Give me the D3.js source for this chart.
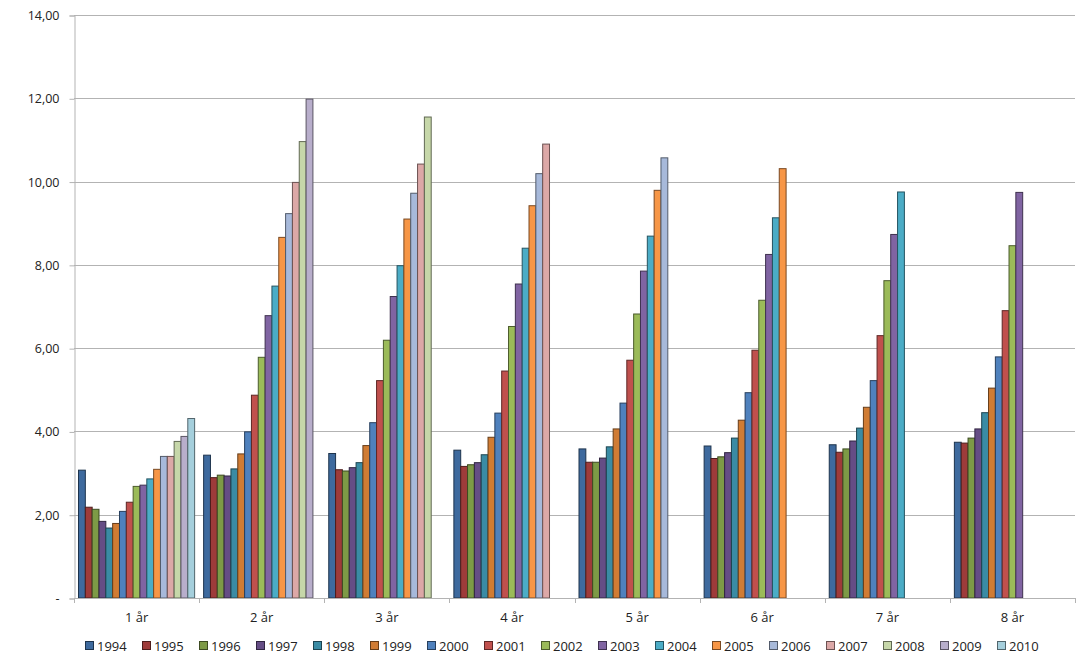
<!DOCTYPE html>
<html><head><meta charset="utf-8">
<script src="https://cdn.jsdelivr.net/npm/d3@7"></script>
<style>body{margin:0;background:#fff}svg{display:block}text{font-family:"Open Sans","Liberation Sans",sans-serif;fill:#222}</style>
</head><body><svg id="c" width="1092" height="667"></svg>
<script>
const categories = ["1 år","2 år","3 år","4 år","5 år","6 år","7 år","8 år"];
const years = ["1994","1995","1996","1997","1998","1999","2000","2001","2002","2003","2004","2005","2006","2007","2008","2009","2010"];
const yTicks = [0,2,4,6,8,10,12,14];
const colors = ["#3E6A9E","#9E3B3A","#7D9A46","#654D85","#3A8BA4","#D07C34","#4F81BD","#C0504D","#9BBB59","#8064A2","#4BACC6","#F79646","#A7B9DA","#DCA8A7","#C6D7A9","#B8AECB","#A5CFDC"];
// values per category, in year order (missing years omitted at end)
const v1 = [3.07,2.18,2.13,1.84,1.68,1.79,2.08,2.30,2.68,2.71,2.86,3.09,3.40,3.40,3.76,3.88,4.31];
const v2 = [3.43,2.89,2.95,2.93,3.10,3.46,3.99,4.87,5.78,6.78,7.49,8.66,9.23,9.98,10.96,11.98];
const v3 = [3.47,3.08,3.05,3.13,3.25,3.66,4.21,5.22,6.19,7.24,7.98,9.10,9.72,10.42,11.55];
const v4 = [3.55,3.16,3.20,3.25,3.44,3.86,4.44,5.45,6.52,7.54,8.40,9.42,10.19,10.90];
const v5 = [3.58,3.26,3.26,3.36,3.63,4.06,4.68,5.71,6.82,7.85,8.69,9.79,10.57];
const v6 = [3.65,3.35,3.39,3.49,3.84,4.27,4.93,5.95,7.15,8.25,9.13,10.31];
const v7 = [3.68,3.50,3.58,3.77,4.08,4.58,5.22,6.30,7.62,8.73,9.75];
const v8 = [3.74,3.72,3.84,4.06,4.45,5.04,5.79,6.90,8.46,9.74];
const values = [v1,v2,v3,v4,v5,v6,v7,v8];

const svg = d3.select("#c");
const L=74, R=1075, T=15, B=598;
const x0 = d3.scaleBand().domain(categories).range([L,R]);
const bw = x0.bandwidth();
const x1 = d3.scaleBand().domain(years).range([4.5, bw-4.5]);
const y = d3.scaleLinear().domain([0,14]).range([B,T]);
const color = d3.scaleOrdinal().domain(years).range(colors);

// gridlines
svg.append("g").selectAll("line").data(yTicks.filter(t=>t>0)).join("line")
  .attr("x1",L).attr("x2",R).attr("y1",d=>Math.round(y(d))+0.5).attr("y2",d=>Math.round(y(d))+0.5)
  .attr("stroke","#b3b3b3").attr("stroke-width",1);

// y axis
const fmt = d => d===0 ? "-" : d3.format(".2f")(d).replace(".",",");
const ya = svg.append("g").attr("transform",`translate(${L+0.5},0.5)`)
  .call(d3.axisLeft(y).tickValues(yTicks).tickFormat(fmt).tickSize(5).tickPadding(10));
ya.select(".domain").attr("stroke","#b3b3b3");
ya.selectAll(".tick line").attr("stroke","#b3b3b3");
ya.selectAll("text").attr("font-size",12.5).style("fill","#222");

// bars
const groups = svg.append("g").selectAll("g").data(categories).join("g")
  .attr("transform",d=>`translate(${x0(d)},0)`);
groups.selectAll("rect").data((d,i)=>values[i].map((v,j)=>({year:years[j],v})))
  .join("rect")
  .attr("x",d=>x1(d.year)).attr("width",x1.bandwidth())
  .attr("y",d=>y(d.v)).attr("height",d=>B-y(d.v))
  .attr("fill",d=>color(d.year))
  .attr("stroke",d=>d3.color(color(d.year)).darker(2))
  .attr("stroke-width",1);

// x axis
svg.append("line").attr("x1",L).attr("x2",R).attr("y1",B+0.5).attr("y2",B+0.5).attr("stroke","#b3b3b3");
svg.append("g").selectAll("line").data(d3.range(categories.length+1)).join("line")
  .attr("x1",i=>Math.round(L+i*bw)+0.5).attr("x2",i=>Math.round(L+i*bw)+0.5)
  .attr("y1",B).attr("y2",B+5).attr("stroke","#b3b3b3");
svg.append("g").selectAll("text").data(categories).join("text")
  .attr("x",d=>x0(d)+bw/2).attr("y",622).attr("text-anchor","middle")
  .attr("font-size",13).text(d=>d);

// legend
const lg = svg.append("g").selectAll("g").data(years).join("g")
  .attr("transform",(d,i)=>`translate(${85+i*57},641)`);
lg.append("rect").attr("x",0.5).attr("y",0.5).attr("width",8).attr("height",8)
  .attr("fill",d=>color(d)).attr("stroke",d=>d3.color(color(d)).darker(2));
lg.append("text").attr("x",12).attr("y",9.5).attr("font-size",13).text(d=>d);
</script></body></html>
